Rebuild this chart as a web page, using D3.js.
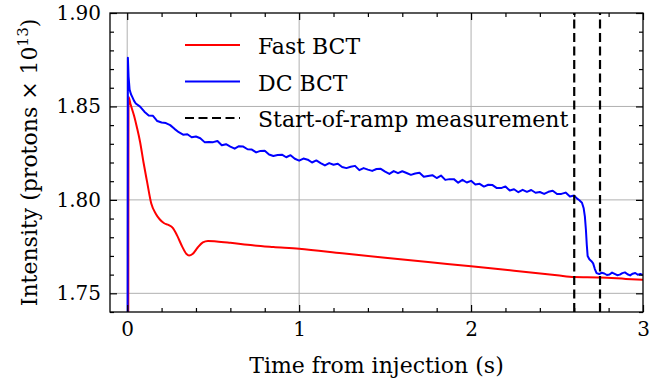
<!DOCTYPE html>
<html>
<head>
<meta charset="utf-8">
<script src="https://cdn.jsdelivr.net/npm/d3@7"></script>
<style>
    body { margin: 0; background: white; }
    svg { display: block; }
    .tick text { font-size: 20px; fill: black; }
    .axis .domain { display: none; }
    .axis line { stroke: black; stroke-width: 1.2; }
    .grid-lines line { stroke: #b0b0b0; stroke-width: 1; }
    .chart-line { fill: none; stroke-width: 2; stroke-linejoin: round; }
    .ramp { stroke: black; stroke-width: 2.2; stroke-dasharray: 9 4.5; }
    .legend text { font-size: 22px; }
</style>
</head>
<body>
<div class="mainview"></div>
<script>

// Data ////////////////////////////////////

const fastT = [0.006, 0.008, 0.02, 0.04, 0.056, 0.075, 0.095, 0.115, 0.14, 0.167, 0.19, 0.215, 0.24, 0.265, 0.29, 0.32, 0.345, 0.36, 0.38, 0.41, 0.44, 0.47, 0.52, 0.6, 0.73, 0.85, 1.0, 1.25, 1.5, 1.75, 2.0, 2.25, 2.5, 2.6, 2.75, 2.9, 3.0];
const fastN = [1.70, 1.855, 1.851, 1.845, 1.839, 1.831, 1.820, 1.810, 1.798, 1.7925, 1.7895, 1.7875, 1.7866, 1.785, 1.781, 1.775, 1.771, 1.7702, 1.771, 1.7745, 1.7772, 1.778, 1.7777, 1.777, 1.7757, 1.7748, 1.7738, 1.7714, 1.7690, 1.7667, 1.7645, 1.7621, 1.7597, 1.7587, 1.7585, 1.7577, 1.7572];

const dcT = [0.002, 0.004, 0.008, 0.014, 0.022, 0.03, 0.04,
    0.05, 0.075, 0.1, 0.125, 0.15, 0.175, 0.2, 0.225, 0.25, 0.275, 0.3, 0.325, 0.35, 0.375, 0.4, 0.425, 0.45, 0.475,
    0.5, 0.525, 0.55, 0.575, 0.6, 0.625, 0.65, 0.675, 0.7, 0.725, 0.75, 0.775, 0.8, 0.825, 0.85, 0.875, 0.9, 0.925, 0.95, 0.975,
    1.0, 1.025, 1.05, 1.075, 1.1, 1.125, 1.15, 1.175, 1.2, 1.225, 1.25, 1.275, 1.3, 1.325, 1.35, 1.375, 1.4, 1.425, 1.45, 1.475,
    1.5, 1.525, 1.55, 1.575, 1.6, 1.625, 1.65, 1.675, 1.7, 1.725, 1.75, 1.775, 1.8, 1.825, 1.85, 1.875, 1.9, 1.925, 1.95, 1.975,
    2.0, 2.025, 2.05, 2.075, 2.1, 2.125, 2.15, 2.175, 2.2, 2.225, 2.25, 2.275, 2.3, 2.325, 2.35, 2.375, 2.4, 2.425, 2.45, 2.475,
    2.5, 2.525, 2.55, 2.575, 2.6, 2.615, 2.63, 2.645, 2.655, 2.662, 2.668, 2.673, 2.678, 2.688, 2.7, 2.71, 2.72, 2.73,
    2.745, 2.76, 2.775, 2.79, 2.805, 2.82, 2.835, 2.85, 2.865, 2.88, 2.895, 2.91, 2.925, 2.94, 2.955, 2.97, 2.985, 3.0];
const dcN = [1.70, 1.876, 1.866, 1.859, 1.8565, 1.855, 1.853,
    1.8516, 1.8499, 1.8472, 1.8452, 1.8450, 1.8422, 1.8414, 1.8411, 1.8400, 1.8380, 1.8362, 1.8349, 1.8351, 1.8335, 1.8339, 1.8330, 1.8309, 1.8310,
    1.8309, 1.8315, 1.8292, 1.8298, 1.8285, 1.8274, 1.8287, 1.8285, 1.8271, 1.8269, 1.8254, 1.8262, 1.8263, 1.8243, 1.8235, 1.8240, 1.8242, 1.8228, 1.8239, 1.8220,
    1.8210, 1.8221, 1.8215, 1.8200, 1.8211, 1.8197, 1.8184, 1.8197, 1.8188, 1.8193, 1.8176, 1.8170, 1.8177, 1.8182, 1.8159, 1.8170, 1.8162, 1.8155, 1.8165, 1.8166,
    1.8151, 1.8139, 1.8154, 1.8143, 1.8153, 1.8144, 1.8134, 1.8141, 1.8145, 1.8124, 1.8128, 1.8132, 1.8117, 1.8130, 1.8107, 1.8111, 1.8111, 1.8092, 1.8107, 1.8093,
    1.8102, 1.8082, 1.8086, 1.8071, 1.8081, 1.8079, 1.8063, 1.8063, 1.8072, 1.8050, 1.8057, 1.8041, 1.8054, 1.8043, 1.8053, 1.8038, 1.8042, 1.8032, 1.8043, 1.8049,
    1.8031, 1.8032, 1.8039, 1.8018, 1.8023, 1.8008, 1.7998, 1.7985, 1.7955, 1.7910, 1.7840, 1.7760, 1.7700, 1.7682, 1.7672, 1.7660, 1.7630, 1.7608,
    1.7603, 1.7610, 1.7606, 1.7598, 1.7601, 1.7611, 1.7604, 1.7597, 1.7600, 1.7608, 1.7612, 1.7602, 1.7596, 1.7605, 1.7609, 1.7599, 1.7603, 1.7598];

const rampT = [2.6, 2.75];

const xTicks = [0, 1, 2, 3];
const xMinor = [0.2, 0.4, 0.6, 0.8, 1.2, 1.4, 1.6, 1.8, 2.2, 2.4, 2.6, 2.8];
const yTicks = [1.75, 1.80, 1.85, 1.90];
const yMinor = [1.74, 1.76, 1.77, 1.78, 1.79, 1.81, 1.82, 1.83, 1.84, 1.86, 1.87, 1.88, 1.89];

const legendItems = [
    { label: "Fast BCT", color: "#ff0000", dash: null },
    { label: "DC BCT", color: "#0000ff", dash: null },
    { label: "Start-of-ramp measurement", color: "black", dash: "9 4.5" }
];

// Layout ////////////////////////////////////

const font = "DejaVu Serif";
const dim = { width: 672, height: 386 };
const margin = { top: 13, right: 29, bottom: 74, left: 110 };

const x = d3.scaleLinear()
    .domain([-0.1, 3.0])
    .range([margin.left, dim.width - margin.right]);

const y = d3.scaleLinear()
    .domain([1.74, 1.90])
    .range([dim.height - margin.bottom, margin.top]);

const svg = d3.select(".mainview").append("svg")
    .attr("width", dim.width)
    .attr("height", dim.height)
    .attr("font-family", font);

svg.append("defs").append("clipPath")
    .attr("id", "clip")
    .append("rect")
    .attr("x", margin.left).attr("y", margin.top)
    .attr("width", dim.width - margin.left - margin.right)
    .attr("height", dim.height - margin.top - margin.bottom);

// Grid ////////////////////////////////////

const grid = svg.append("g").attr("class", "grid-lines");
grid.selectAll(".gx")
    .data(xTicks.filter(d => d < 3))
    .join("line")
    .attr("x1", d => x(d)).attr("x2", d => x(d))
    .attr("y1", margin.top).attr("y2", dim.height - margin.bottom);
grid.selectAll(".gy")
    .data(yTicks.filter(d => d < 1.9))
    .join("line")
    .attr("x1", margin.left).attr("x2", dim.width - margin.right)
    .attr("y1", d => y(d)).attr("y2", d => y(d));

// Lines ////////////////////////////////////

const plot = svg.append("g").attr("clip-path", "url(#clip)");

const fast = fastT.map((t, i) => [t, fastN[i]]);
const dc = dcT.map((t, i) => [t, dcN[i]]);

plot.append("path")
    .attr("class", "chart-line")
    .attr("stroke", legendItems[0].color)
    .attr("d", d3.line().curve(d3.curveMonotoneX).x(d => x(d[0])).y(d => y(d[1]))(fast));

plot.append("path")
    .attr("class", "chart-line")
    .attr("stroke", legendItems[1].color)
    .attr("stroke-width", 2.2)
    .attr("d", d3.line().x(d => x(d[0])).y(d => y(d[1]))(dc));

plot.selectAll(".ramp")
    .data(rampT)
    .join("line")
    .attr("class", "ramp")
    .attr("x1", d => x(d)).attr("x2", d => x(d))
    .attr("y1", dim.height - margin.bottom).attr("y2", margin.top);

// Axes ////////////////////////////////////

const bottom = dim.height - margin.bottom;
const right = dim.width - margin.right;

function addAxis(axis, transform) {
    svg.append("g")
        .attr("class", "axis")
        .attr("transform", transform)
        .call(axis)
        .attr("font-family", font)
        .attr("font-size", null);
}

addAxis(d3.axisBottom(x).tickValues(xTicks).tickFormat(d3.format("d")).tickSize(-7).tickPadding(10), `translate(0, ${ bottom })`);
addAxis(d3.axisBottom(x).tickValues(xMinor).tickFormat("").tickSize(-4), `translate(0, ${ bottom })`);
addAxis(d3.axisTop(x).tickValues(xTicks).tickFormat("").tickSize(-7), `translate(0, ${ margin.top })`);
addAxis(d3.axisTop(x).tickValues(xMinor).tickFormat("").tickSize(-4), `translate(0, ${ margin.top })`);
addAxis(d3.axisLeft(y).tickValues(yTicks).tickFormat(d3.format(".2f")).tickSize(-7).tickPadding(9), `translate(${ margin.left }, 0)`);
addAxis(d3.axisLeft(y).tickValues(yMinor).tickFormat("").tickSize(-4), `translate(${ margin.left }, 0)`);
addAxis(d3.axisRight(y).tickValues(yTicks).tickFormat("").tickSize(-7), `translate(${ right }, 0)`);
addAxis(d3.axisRight(y).tickValues(yMinor).tickFormat("").tickSize(-4), `translate(${ right }, 0)`);

svg.append("rect")
    .attr("x", margin.left).attr("y", margin.top)
    .attr("width", right - margin.left)
    .attr("height", bottom - margin.top)
    .attr("fill", "none")
    .attr("stroke", "black")
    .attr("stroke-width", 1.3);

// Labels ////////////////////////////////////

svg.append("text")
    .attr("x", (margin.left + right) / 2)
    .attr("y", 373)
    .attr("text-anchor", "middle")
    .style("font-size", "22px")
    .text("Time from injection (s)");

const ylab = svg.append("text")
    .attr("transform", `translate(37, ${ (margin.top + bottom) / 2 }) rotate(-90)`)
    .attr("text-anchor", "middle")
    .style("font-size", "22px");
ylab.append("tspan").text("Intensity (protons × 10");
ylab.append("tspan").attr("dy", -9).style("font-size", "15px").text("13");
ylab.append("tspan").attr("dy", 9).text(")");

// Legend ////////////////////////////////////

const legend = svg.append("g").attr("class", "legend");
const rows = legend.selectAll("g")
    .data(legendItems)
    .join("g")
    .attr("transform", (d, i) => `translate(185, ${ 45 + i * 36.5 })`);
rows.append("line")
    .attr("x1", 0).attr("x2", 55)
    .attr("stroke", d => d.color)
    .attr("stroke-width", d => d.dash ? 2.2 : 2)
    .attr("stroke-dasharray", d => d.dash);
rows.append("text")
    .attr("x", 73)
    .attr("y", 9)
    .text(d => d.label);

</script>
</body>
</html>
